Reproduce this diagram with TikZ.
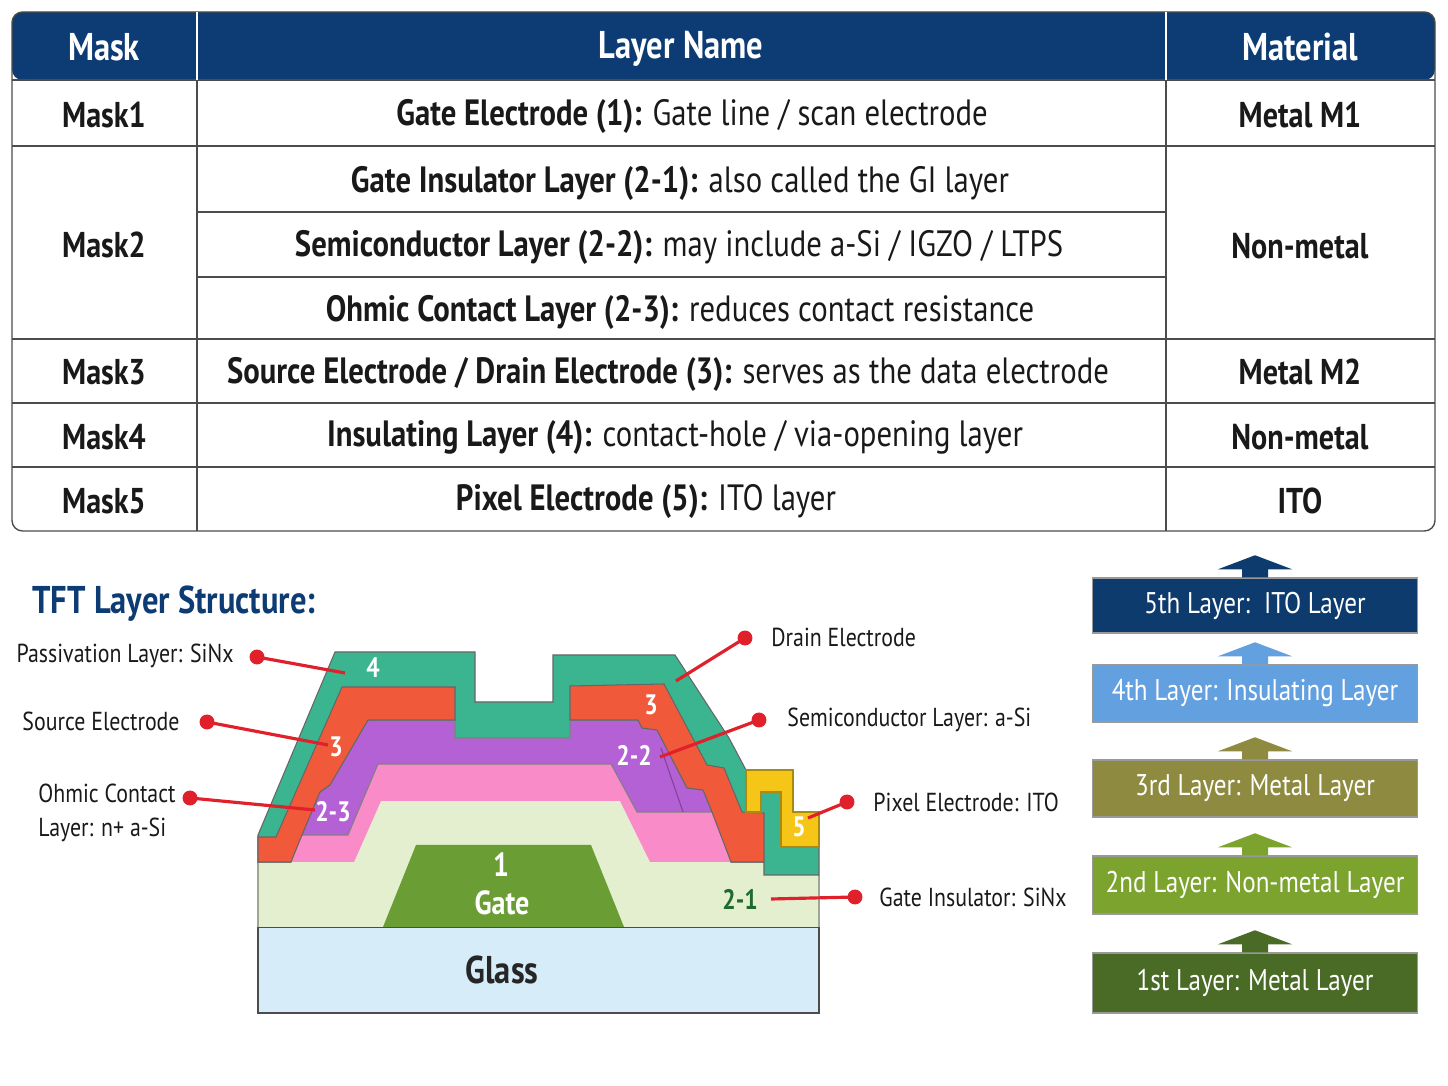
\documentclass[tikz,border=0pt]{standalone}
\usepackage{fontspec}
\setmainfont[FakeStretch=0.84]{PT Sans}
\usetikzlibrary{positioning}
\definecolor{navy}{HTML}{0D3B73}
\definecolor{tealc}{HTML}{3AB58F}
\definecolor{redo}{HTML}{F05A3A}
\definecolor{purp}{HTML}{B461D6}
\definecolor{pinkc}{HTML}{F98CC8}
\definecolor{palegr}{HTML}{E3EFCF}
\definecolor{gatec}{HTML}{6A9E35}
\definecolor{glassc}{HTML}{D6ECF8}
\definecolor{yel}{HTML}{F5C518}
\definecolor{callred}{HTML}{E0202A}
\definecolor{lay5}{HTML}{0D3B6E}
\definecolor{lay4}{HTML}{62A0E0}
\definecolor{lay3}{HTML}{8E8B40}
\definecolor{lay2}{HTML}{7BA32E}
\definecolor{lay1}{HTML}{4A6B25}
\definecolor{darkg}{HTML}{1E6B30}
\tikzset{
  hdr/.style={text=white, font=\fontsize{11}{13}\selectfont\bfseries},
  cell/.style={text=black!90, font=\fontsize{10.4}{12}\selectfont},
  msk/.style={cell, font=\fontsize{10.2}{11}\selectfont\bfseries},
  lyr/.style={draw=white!60!black, line width=0.4pt, minimum width=3.25cm, text=white, font=\fontsize{8.5}{10}\selectfont},
  num/.style={text=white, font=\fontsize{8}{9}\selectfont\bfseries},
  call/.style={font=\fontsize{7.4}{9.5}\selectfont, text=black!90, align=left},
  ln/.style={callred, line width=0.9pt},
  dot/.style={circle, fill=callred, inner sep=1.5pt}
}
\begin{document}
\begin{tikzpicture}[x=0.01cm, y=-0.01cm]
\useasboundingbox (0,0) rectangle (1448,1086);
% table
\fill[navy, rounded corners=3] (12,12) rectangle (1435,80);
\draw[black!70, rounded corners=3] (12,12) rectangle (1435,531);
\draw[black!70] (12,80) -- (1435,80) (12,146) -- (1435,146) (197,212) -- (1166,212) (197,277) -- (1166,277)
  (12,339) -- (1435,339) (12,403) -- (1435,403) (12,467) -- (1435,467);
\draw[black!70] (197,12) -- (197,531) (1166,12) -- (1166,531);
\draw[white] (197,12) -- (197,80) (1166,12) -- (1166,80);
\node[hdr] (HMask) at (104,47) {Mask};
\node[hdr] (HName) at (681,49) {Layer Name};
\node[hdr] (HMat) at (1300,47) {Material};
\node[msk] (M1) at (104,115) {Mask1};
\node[msk] (M2) at (104,245) {Mask2};
\node[msk] (M3) at (104,372) {Mask3};
\node[msk] (M4) at (104,437) {Mask4};
\node[msk] (M5) at (104,501) {Mask5};
\node[cell] (N1) at (692,116) {\textbf{Gate Electrode (1):} Gate line / scan electrode};
\node[cell] (N21) at (680,183) {\textbf{Gate Insulator Layer (2-1):} also called the GI layer};
\node[cell] (N22) at (679,247) {\textbf{Semiconductor Layer (2-2):} may include a-Si / IGZO / LTPS};
\node[cell] (N23) at (680,312) {\textbf{Ohmic Contact Layer (2-3):} reduces contact resistance};
\node[cell] (N3) at (668,374) {\textbf{Source Electrode / Drain Electrode (3):} serves as the data electrode};
\node[cell] (N4) at (675,438) {\textbf{Insulating Layer (4):} contact-hole / via-opening layer};
\node[cell] (N5) at (646,502) {\textbf{Pixel Electrode (5):} ITO layer};
\node[msk] (T1) at (1300,115) {Metal M1};
\node[msk] (T2) at (1300,246) {Non-metal};
\node[msk] (T3) at (1300,372) {Metal M2};
\node[msk] (T4) at (1300,437) {Non-metal};
\node[msk] (T5) at (1300,501) {ITO};
% cross section
\node[anchor=west, text=navy, font=\fontsize{11}{13}\selectfont\bfseries] (Title) at (20,604) {TFT Layer Structure:};
\fill[glassc] (258,927) rectangle (819,1013);
\draw[black!70] (258,927) rectangle (819,1013);
\fill[palegr] (258,927) -- (258,862) -- (353,862) -- (381,801) -- (620,801) -- (650,862) -- (819,862) -- (819,927) -- cycle;
\draw[palegr!70!black, line width=0.3pt] (258,927) -- (258,862) (819,875) -- (819,927);
\fill[gatec] (383,927) -- (416,845) -- (591,845) -- (624,927) -- cycle;
\fill[tealc, draw=black!60, line width=0.3pt] (258,835) -- (335,652) -- (475,652) -- (475,702) -- (553,702) -- (553,655) -- (675,655)
  -- (729,738) -- (746,770) -- (746,812) -- (761,812) -- (761,792) -- (781,792) -- (781,847) -- (819,847) -- (819,875)
  -- (764,875) -- (764,862) -- (731,862) -- (714,812) -- (637,812) -- (611,764) -- (378,764) -- (302,835) -- (291,862)
  -- (258,862) -- cycle;
\fill[pinkc] (291,862) -- (302,835) -- (345,764) -- (611,764) -- (637,812) -- (714,812) -- (731,862) -- (650,862)
  -- (620,801) -- (381,801) -- (354,862) -- cycle;
\fill[purp, draw=black!50, line width=0.3pt] (302,835) -- (320,792) -- (330,785) -- (368,720) -- (455,720) -- (455,738) -- (570,738) -- (570,720)
  -- (638,720) -- (642,728) -- (657,730) -- (687,788) -- (703,790) -- (712,812) -- (637,812) -- (611,764)
  -- (378,764) -- (348,835) -- cycle;
\draw[purp!70!black, line width=0.3pt] (661,748) -- (683,812);
\fill[redo, draw=black!60, line width=0.3pt] (258,862) -- (258,837) -- (276,837) -- (342,687) -- (455,687) -- (455,720) -- (368,720)
  -- (330,785) -- (320,792) -- (302,835) -- (291,862) -- cycle;
\fill[redo, draw=black!60, line width=0.3pt] (570,686) -- (664,684) -- (707,765) -- (724,768) -- (742,812) -- (764,813) -- (764,862)
  -- (731,862) -- (712,812) -- (703,790) -- (687,788) -- (657,730) -- (642,728) -- (638,720) -- (570,720) -- cycle;
\fill[yel, draw=yel!70!black, line width=0.3pt] (746,770) -- (793,770) -- (793,812) -- (819,812) -- (819,847) -- (781,847) -- (781,792)
  -- (761,792) -- (761,812) -- (746,812) -- cycle;
\node[num] (n4) at (373,668) {4};
\node[num] (n3l) at (336,747) {3};
\node[num] (n23) at (333,812) {2-3};
\node[num] (n3r) at (651,705) {3};
\node[num] (n22) at (634,755) {2-2};
\node[num] (n5) at (799,827) {5};
\node[num, font=\fontsize{9.5}{11}\selectfont\bfseries] (n1) at (501,865) {1};
\node[num, font=\fontsize{9.5}{11}\selectfont\bfseries] (Gate) at (502,903) {Gate};
\node[text=darkg, font=\fontsize{8}{9}\selectfont\bfseries] (n21) at (740,899) {2-1};
\node[font=\fontsize{11}{13}\selectfont\bfseries, text=black!85] (Glass) at (502,970) {Glass};
% callouts
\node[call, anchor=east] (Pas) at (246,656) {Passivation Layer: SiNx};
\node[call, anchor=east] (Src) at (192,721) {Source Electrode};
\node[call, anchor=west] (Ohm) at (26,813) {Ohmic Contact\\Layer: n+ a-Si};
\node[call, anchor=west] (Drn) at (759,637) {Drain Electrode};
\node[call, anchor=west] (Sem) at (775,720) {Semiconductor Layer: a-Si};
\node[call, anchor=west] (Pix) at (861,802) {Pixel Electrode: ITO};
\node[call, anchor=west] (GIn) at (867,897) {Gate Insulator: SiNx};
\coordinate (pPas) at (345,673); \coordinate (pSrc) at (328,745); \coordinate (pOhm) at (315,810);
\coordinate (pDrn) at (676,681); \coordinate (pSem) at (660,757); \coordinate (pPix) at (808,818); \coordinate (pGI) at (771,899);
\node[dot] (dPas) at (257,657) {};
\node[dot] (dSrc) at (207,722) {};
\node[dot] (dOhm) at (190,798) {};
\node[dot] (dDrn) at (745,638) {};
\node[dot] (dSem) at (759,720) {};
\node[dot] (dPix) at (847,802) {};
\node[dot] (dGI) at (855,897) {};
\draw[ln] (dPas.center) -- (pPas); \draw[ln] (dSrc.center) -- (pSrc); \draw[ln] (dOhm.center) -- (pOhm);
\draw[ln] (dDrn.center) -- (pDrn); \draw[ln] (dSem.center) -- (pSem); \draw[ln] (dPix.center) -- (pPix);
\draw[ln] (dGI.center) -- (pGI);
% layer stack
\node[lyr, fill=lay5, minimum height=0.55cm] (L5) at (1255,605.5) {5th Layer:\, ITO Layer};
\node[lyr, fill=lay4, minimum height=0.57cm] (L4) at (1255,693.5) {4th Layer: Insulating Layer};
\node[lyr, fill=lay3, minimum height=0.57cm] (L3) at (1255,788.5) {3rd Layer: Metal Layer};
\node[lyr, fill=lay2, minimum height=0.58cm] (L2) at (1255,885) {2nd Layer: Non-metal Layer};
\node[lyr, fill=lay1, minimum height=0.60cm] (L1) at (1255,983) {1st Layer: Metal Layer};
\foreach \n/\c in {1/lay1,2/lay2,3/lay3,4/lay4,5/lay5}
  \fill[\c] ([xshift=-0.13cm]L\n.north) -- ++(0,-8) -- ++(-24,0) -- ([yshift=0.22cm]L\n.north)
    -- ([xshift=0.37cm,yshift=0.08cm]L\n.north) -- ++(-24,0) -- ++(0,8) -- cycle;
\end{tikzpicture}
\end{document}
